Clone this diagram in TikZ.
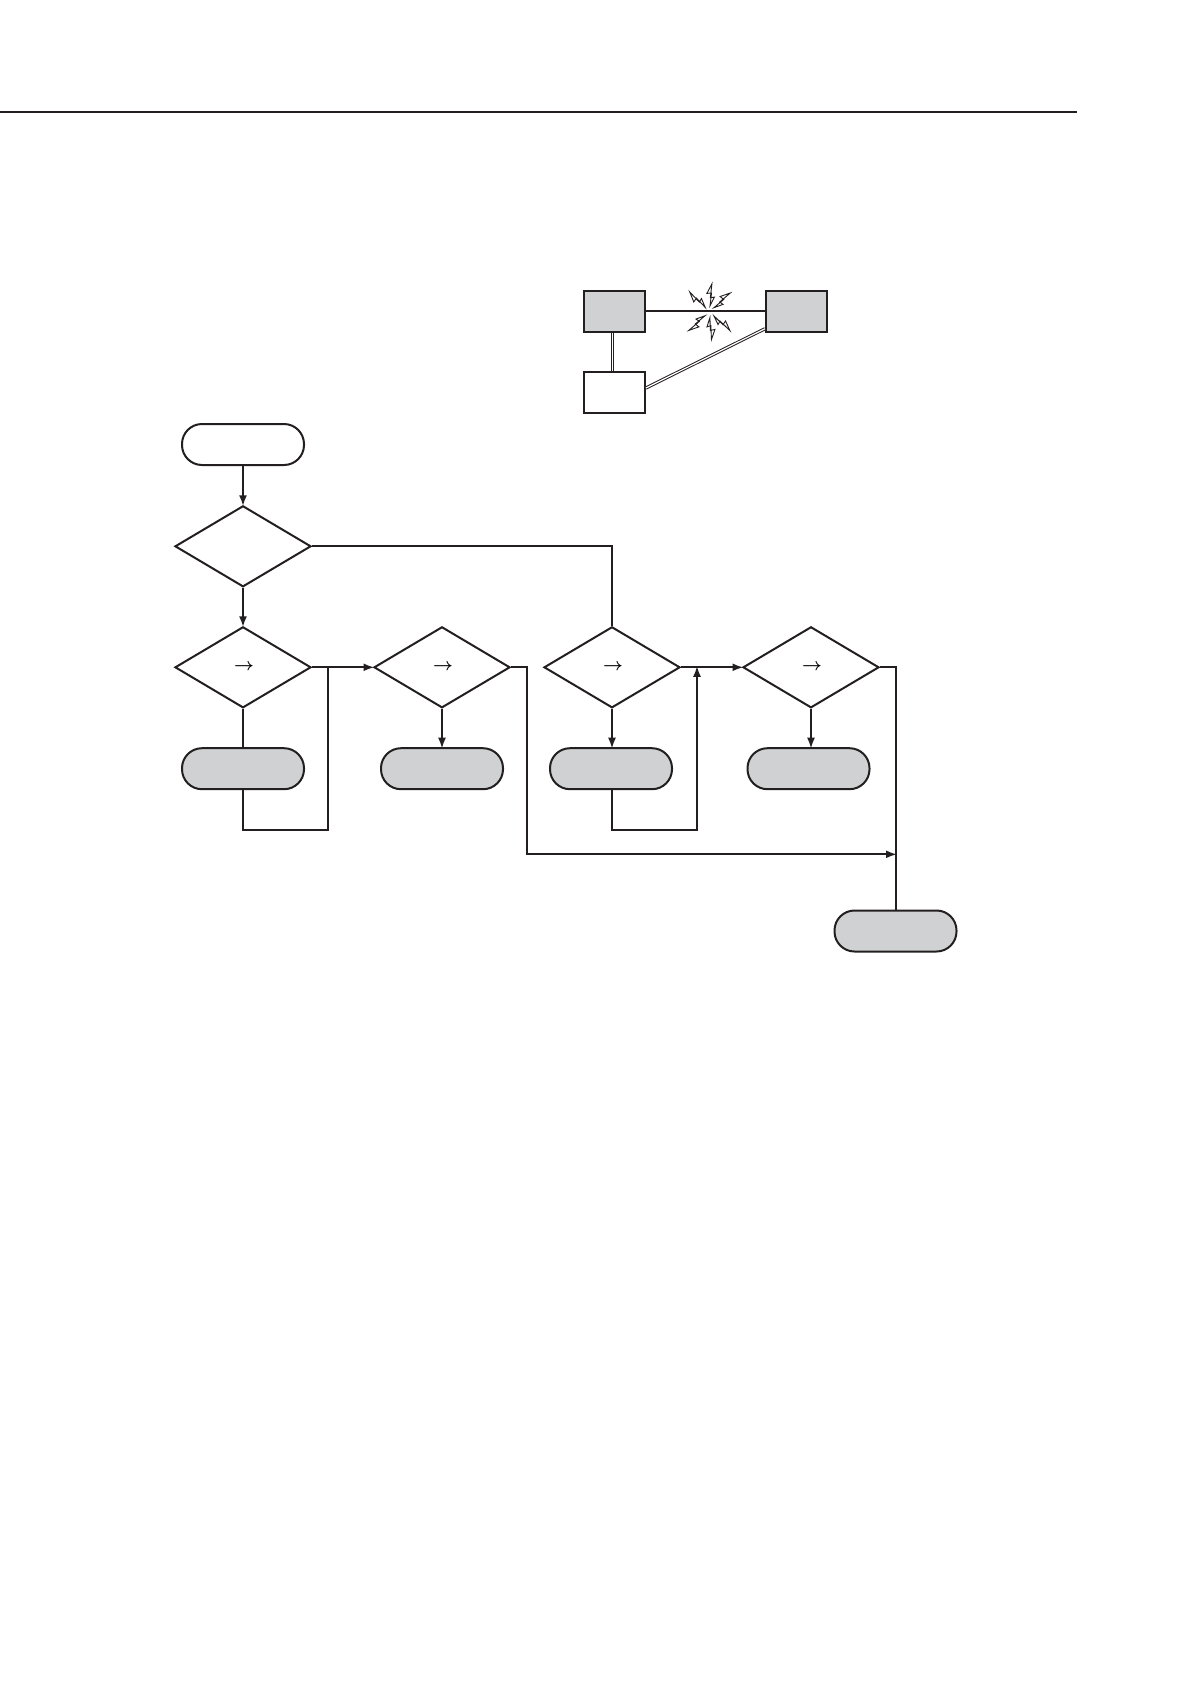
\documentclass[tikz,border=0pt]{standalone}
\usetikzlibrary{arrows.meta, shapes.geometric}
\definecolor{panel}{HTML}{CFD1D2}
\definecolor{ink}{HTML}{231F20}
\newcommand{\flowdir}{\raisebox{-2pt}{\hspace{2pt}\boldmath$\rightarrow$}}
\tikzset{
  flow/.style={draw=ink, line width=2pt},
  flow arrow/.style={flow, shorten >=-1.5pt, -{Latex[length=11pt, width=8pt]}},
  flow diamond/.style={diamond, draw=ink, line width=2pt, aspect=1.68, inner sep=0pt,
    minimum width=136pt, minimum height=81pt, font=\fontsize{16}{16}\selectfont},
  flow end/.style={rectangle, rounded corners=20pt, draw=ink, line width=2pt,
    minimum width=122pt, minimum height=41pt, inner sep=0pt},
  flow stop/.style={flow end, fill=panel},
  net box/.style={rectangle, draw=ink, line width=2pt, minimum width=61pt,
    minimum height=41pt, inner sep=0pt},
  net link/.style={draw=ink, double=white, double distance=1.2pt, line width=1pt},
  bolt/.pic={
    \draw[draw=ink, fill=white, line width=0.9pt, line join=miter]
      (6,0) -- (15,3.6) -- (14,-0.4) -- (28,0) -- (18,-4.2) -- (18.8,0.4) -- cycle;
  },
}

\begin{document}
\begin{tikzpicture}[x=1pt, y=-1pt]
  \useasboundingbox (0,0) rectangle (1190,1684);
  \draw[flow] (0,111.5) -- (1077,111.5);

  \node[net box, fill=panel] (host1) at (614.3,311.3) {};
  \node[net box, fill=panel] (host2) at (796.4,311.3) {};
  \node[net box] (relay) at (614.3,392.5) {};
  \draw[flow] (host1) -- (host2);
  \draw[net link] (host1.-95.5) -- (relay.95.5);
  \draw[net link] (host2.209) -- (relay.8);
  \coordinate (spark) at (709.5,311.7);
  \foreach \ang in {42,85,135,222,274,317}
    \pic[rotate=\ang] at (spark) {bolt};

  \node[flow end] (start) at (243,444.5) {};
  \node[flow diamond] (d1) at (243,546.3) {};
  \node[flow diamond] (d2) at (243,667.3) {\flowdir};
  \node[flow diamond] (d3) at (442,667.3) {\flowdir};
  \node[flow diamond] (d4) at (612,667.3) {\flowdir};
  \node[flow diamond] (d5) at (811,667.3) {\flowdir};
  \node[flow stop] (t2) at (243,768.7) {};
  \node[flow stop] (t3) at (442,768.7) {};
  \node[flow stop] (t4) at (611,768.7) {};
  \node[flow stop] (t5) at (808.5,768.7) {};
  \node[flow stop] (t6) at (895.5,931) {};

  \coordinate (join2) at (328,667.3);  \coordinate (low2) at (243,829.7);
  \coordinate (join4) at (697,667.3);  \coordinate (low4) at (612,829.7);
  \coordinate (drop3) at (526.7,854.3);  \coordinate (merge) at (895.5,854.3);

  \draw[flow arrow] (start) -- (d1);
  \draw[flow arrow] (d1) -- (d2);
  \draw[flow] (d1.east) -| (d4.north);
  \draw[flow arrow] (d2) -- (d3);
  \draw[flow arrow] (d4) -- (d5);
  \draw[flow] (d2) -- (t2);
  \draw[flow arrow] (d3) -- (d3 |- t3.north);
  \draw[flow arrow] (d4) -- (d4 |- t4.north);
  \draw[flow arrow] (d5) -- (d5 |- t5.north);
  \draw[flow] (t2.south) -- (low2) -| (join2);
  \draw[flow arrow] (t4.south -| low4) -- (low4) -| (join4);
  \draw[flow] (d5.east) -| (t6.north);
  \draw[flow arrow] (d3.east) -| (drop3) -- (merge);
\end{tikzpicture}
\end{document}
